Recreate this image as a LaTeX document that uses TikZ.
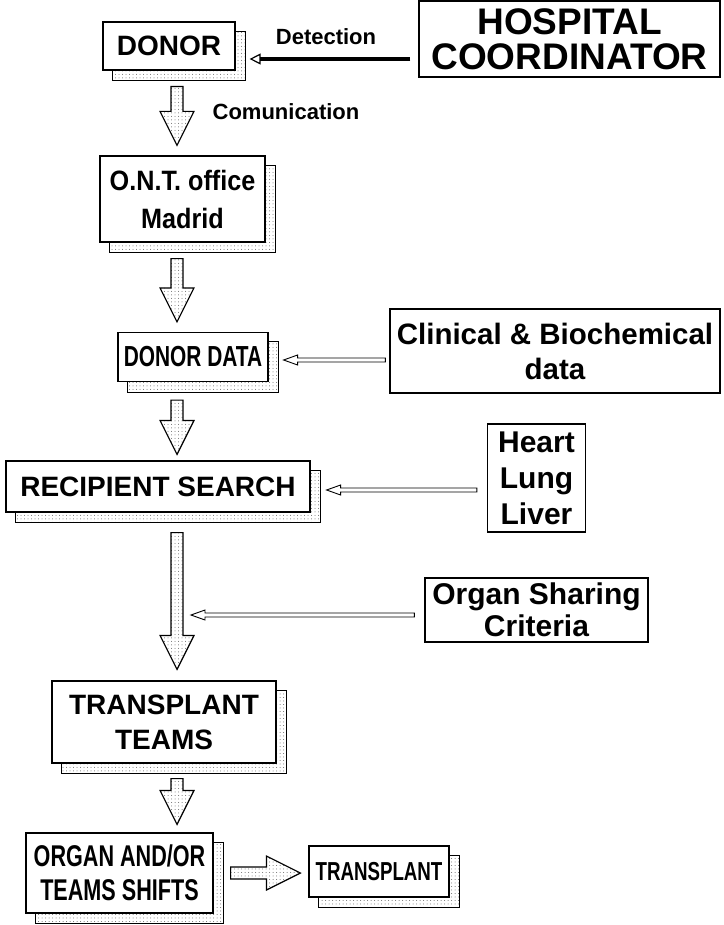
\documentclass[tikz,border=0pt]{standalone}
\usepackage{fontspec}
\setmainfont{Liberation Sans}
\newfontfamily\narrowsans[FakeStretch=0.72]{Liberation Sans}
\newfontfamily\slimsans[FakeStretch=0.9]{Liberation Sans}
\usetikzlibrary{calc,backgrounds,patterns.meta,arrows.meta}

\tikzset{
	stage/.style={draw, fill=white, line width=1.2pt, inner sep=0pt, align=center,
		font=\bfseries\fontsize{28}{35}\selectfont},
	narrow stage/.style={stage, font=\narrowsans\bfseries\fontsize{30}{34}\selectfont},
	dropbox/.style={draw, line width=1pt, pattern={Dots[radius=0.5pt,distance=3.5pt]}, pattern color=black!60},
	flow/.style={draw, line width=1.2pt, pattern={Dots[radius=0.5pt,distance=3.5pt]}, pattern color=black!60},
	feed/.style={draw, fill=white, line width=0.9pt},
	alert/.style={line width=4pt, -{Triangle[open, length=11pt, width=11pt, line width=1.2pt]}},
	caption/.style={font=\bfseries\fontsize{22}{26}\selectfont},
}

% fat arrow from #2 to #3: shaft half width #4, head half width #5, head length #6
\newcommand{\blockarrow}[6][flow]{%
	\coordinate (ba s) at (#2);
	\coordinate (ba e) at (#3);
	\coordinate (ba h) at ($(ba e)!#6!(ba s)$);
	\draw[#1] ($(ba s)!#4!90:(ba e)$) -- ($(ba h)!#4!-90:(ba s)$) -- ($(ba h)!#5!-90:(ba s)$)
		-- (ba e) -- ($(ba h)!#5!90:(ba s)$) -- ($(ba h)!#4!90:(ba s)$) -- ($(ba s)!#4!-90:(ba e)$) -- cycle;
}

\begin{document}
\begin{tikzpicture}[x=1pt, y=-1pt]
	\useasboundingbox (0,0) rectangle (723,925);
	\coordinate (spine) at (177,0);

	% main chain
	\node[stage, minimum width=132, minimum height=48] (donor) at (169,46) {DONOR};
	\node[stage, font=\slimsans\bfseries\fontsize{28}{38}\selectfont,
		minimum width=165, minimum height=86] (ont) at (182.5,199) {O.N.T. office\\Madrid};
	\node[narrow stage, font=\narrowsans\bfseries\fontsize{29}{34}\selectfont,
		minimum width=150, minimum height=49] (ddata) at (193,357) {DONOR DATA};
	\node[stage, minimum width=304, minimum height=51] (search) at (158,486.5) {RECIPIENT SEARCH};
	\node[stage, minimum width=224, minimum height=82] (teams) at (164,722) {TRANSPLANT\\TEAMS};
	\node[narrow stage, minimum width=187, minimum height=80] (shifts) at (119.5,873) {ORGAN AND/OR\\TEAMS SHIFTS};
	\node[narrow stage, font=\narrowsans\bfseries\fontsize{26}{30}\selectfont,
		minimum width=140, minimum height=51] (transplant) at (379,871.5) {TRANSPLANT};

	% inputs on the right
	\node[stage, font=\bfseries\fontsize{37}{35}\selectfont, minimum width=301, minimum height=76] (hospital) at (569.5,39) {HOSPITAL\\COORDINATOR};
	\node[stage, font=\bfseries\fontsize{29.5}{35}\selectfont, minimum width=330, minimum height=84] (clinical) at (555,351) {Clinical \& Biochemical\\data};
	\node[stage, font=\bfseries\fontsize{30}{36}\selectfont, minimum width=98, minimum height=108] (organs) at (536.5,478) {Heart\\Lung\\Liver};
	\node[stage, font=\bfseries\fontsize{30}{32}\selectfont, minimum width=223, minimum height=64] (criteria) at (536.5,610) {Organ Sharing\\Criteria};

	\node[caption] (detect) at (326,37) {Detection};
	\node[caption] (comm) at (286,112) {Comunication};

	% dotted shadows behind the boxes
	\begin{scope}[on background layer]
		\foreach \n in {donor,ont,ddata,search,teams,shifts,transplant}
			\draw[dropbox] ($(\n.south west)+(10,10)$) rectangle ($(\n.north east)+(10,10)$);
	\end{scope}

	\draw[alert] ($(hospital.west)+(-8,20)$) -- ($(hospital.west -| donor.east)+(14,20)$);

	\blockarrow{$(donor.south -| spine)+(0,16)$}{$(ont.north -| spine)+(0,-10)$}{6pt}{17pt}{34pt}
	\blockarrow{$(ont.south -| spine)+(0,16)$}{$(ddata.north -| spine)+(0,-10)$}{6pt}{17pt}{34pt}
	\blockarrow{$(ddata.south -| spine)+(0,18)$}{$(search.north -| spine)+(0,-6)$}{6pt}{17pt}{34pt}
	\blockarrow{$(search.south -| spine)+(0,20)$}{$(teams.north -| spine)+(0,-11)$}{6pt}{17pt}{34pt}
	\blockarrow{$(teams.south -| spine)+(0,15)$}{$(shifts.north -| spine)+(0,-8)$}{6pt}{17pt}{34pt}
	\blockarrow{$(shifts.east)+(17,0)$}{$(transplant.west |- shifts.east)+(-8,0)$}{6pt}{17pt}{34pt}

	\blockarrow[feed]{$(clinical.west)+(-4,9)$}{$(ddata.east)+(15,3)$}{2pt}{5pt}{14pt}
	\blockarrow[feed]{$(organs.west)+(-10,12)$}{$(search.east)+(16,3.5)$}{2pt}{5pt}{14pt}
	\blockarrow[feed]{$(criteria.west)+(-10,5)$}{$(criteria.west -| spine)+(14,5)$}{2pt}{5pt}{14pt}
\end{tikzpicture}
\end{document}
